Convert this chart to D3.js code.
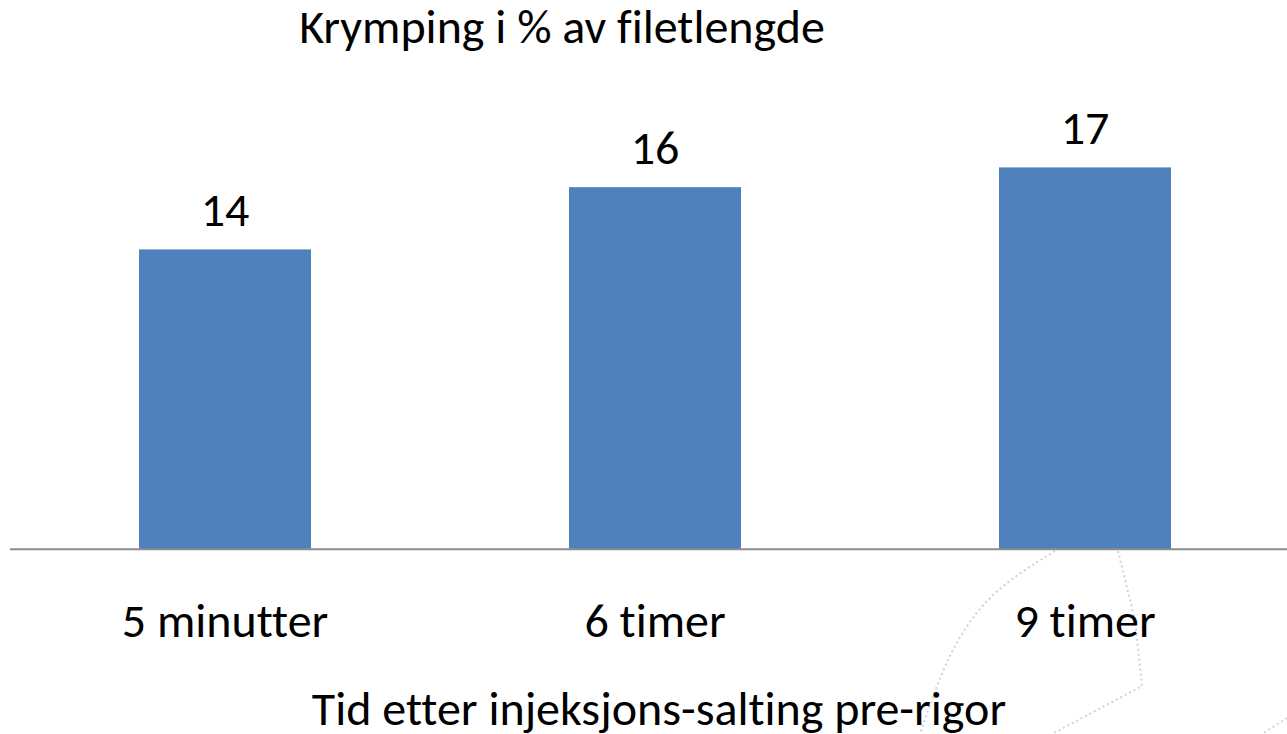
<!DOCTYPE html>
<html>
<head>
<meta charset="utf-8">
<script src="https://cdn.jsdelivr.net/npm/d3@7"></script>
<style>
  html, body { margin: 0; padding: 0; background: #fff; }
  svg { display: block; }
  text { font-family: Carlito, "Open Sans", sans-serif; fill: #000; font-variant-ligatures: none; font-feature-settings: "liga" 0, "clig" 0; }
</style>
</head>
<body>
<svg id="chart" width="1287" height="734"></svg>
<script>
// ---- data ----
const categories = ["5 minutter", "6 timer", "9 timer"];
const values = [13.35, 16.12, 17.0];
const valueLabels = ["14", "16", "17"];
const chartTitle = "Krymping i % av filetlengde";
const xAxisTitle = "Tid etter injeksjons-salting pre-rigor";

const svg = d3.select("#chart");
const FONT = "Carlito, 'Open Sans', sans-serif";
const FS = 48;

const x = d3.scaleBand().domain(categories).range([10, 1300]).paddingInner(0.6).paddingOuter(0.3);
const y = d3.scaleLinear().domain([0, 20]).range([549.3, 100]);

// decorative dotted background watermark
const deco = svg.append("g").attr("fill", "none").attr("stroke", "#c5d5e0")
  .attr("stroke-width", 2).attr("stroke-dasharray", "2,3");
const line = d3.line().curve(d3.curveBasis);
deco.append("path").attr("d", line([[1055,551],[1000,585],[965,625],[940,675],[920,734]]));
deco.append("path").attr("d", d3.line()([[1118,551],[1135,620],[1142,686],[1052,734]]));
deco.append("path").attr("d", d3.line()([[1287,718],[1262,734]]));

// bars
svg.append("g").selectAll("rect").data(values).join("rect")
  .attr("x", (d, i) => x(categories[i]))
  .attr("width", x.bandwidth())
  .attr("y", d => y(d))
  .attr("height", d => y(0) - y(d))
  .attr("fill", "#4f81bd");

// value labels
svg.append("g").selectAll("text").data(values).join("text")
  .attr("x", (d, i) => x(categories[i]) + x.bandwidth() / 2)
  .attr("y", d => y(d) - 23)
  .attr("text-anchor", "middle")
  .attr("font-size", FS)
  .text((d, i) => valueLabels[i]);

// x axis
const xAxis = svg.append("g").attr("transform", `translate(0,${y(0)})`)
  .call(d3.axisBottom(x).tickSize(0).tickPadding(0));
xAxis.select(".domain").attr("stroke", "#8c8c8c").attr("stroke-width", 2)
  .attr("d", "M10,0H1287");
xAxis.selectAll(".tick text")
  .attr("font-size", FS).attr("dy", 0).attr("y", 87.5)
  .attr("fill", "#000")
  .style("font-family", FONT);

// titles
svg.append("text").attr("x", 562).attr("y", 43).attr("text-anchor", "middle")
  .attr("font-size", FS).text(chartTitle);
svg.append("text").attr("x", 659).attr("y", 725).attr("text-anchor", "middle")
  .attr("font-size", FS).text(xAxisTitle);
</script>
</body>
</html>
